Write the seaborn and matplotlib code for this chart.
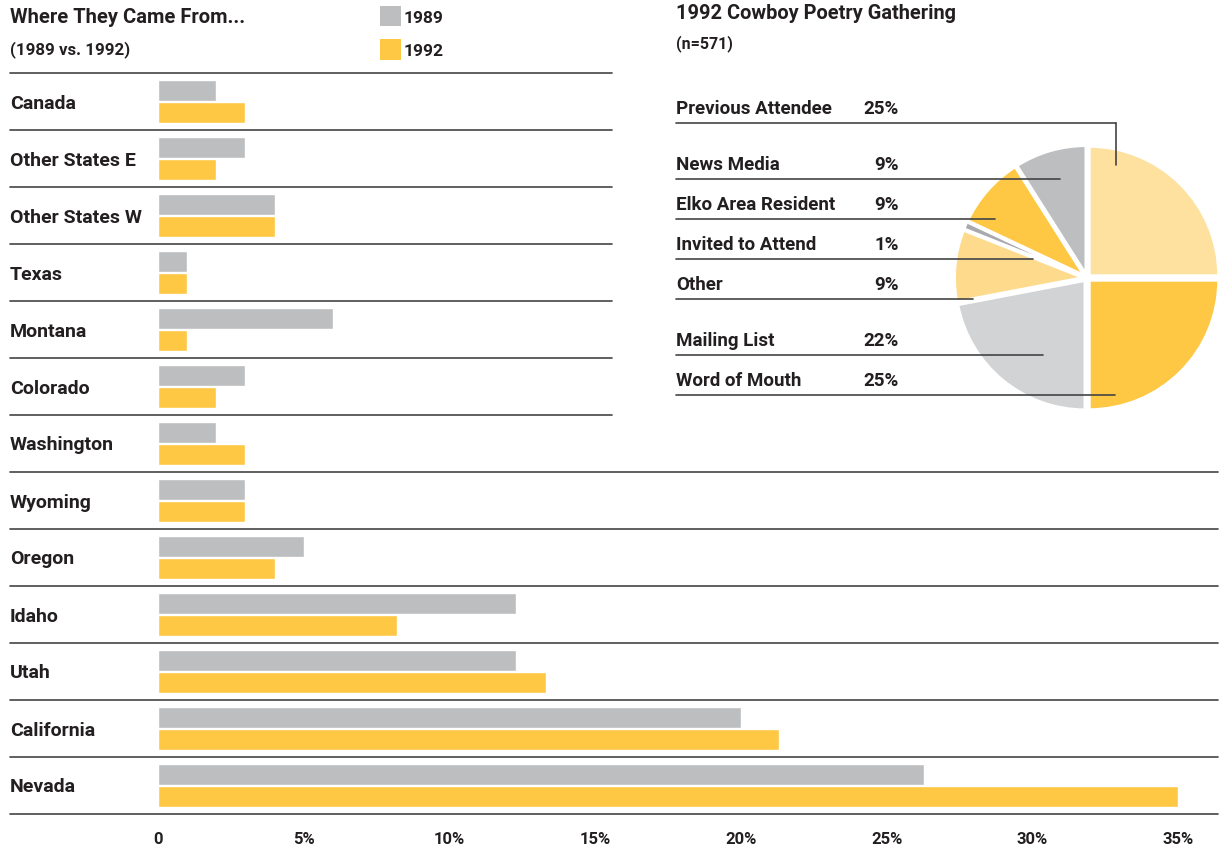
import seaborn as sns
import matplotlib.pyplot as plt
import pandas as pd

# --------------------
# Data
# --------------------
states = ["Canada", "Other States E", "Other States W", "Texas", "Montana",
          "Colorado", "Washington", "Wyoming", "Oregon", "Idaho", "Utah",
          "California", "Nevada"]
pct_1989 = [2, 3, 4, 1, 6, 3, 2, 3, 5, 12.3, 12.3, 20, 26.3]
pct_1992 = [3, 2, 4, 1, 1, 2, 3, 3, 4, 8.2, 13.3, 21.3, 35]

sources = ["Previous Attendee", "News Media", "Elko Area Resident",
           "Invited to Attend", "Other", "Mailing List", "Word of Mouth"]
source_pct = [25, 9, 9, 1, 9, 22, 25]
# pie goes clockwise from the top in this order
pie_order = ["Previous Attendee", "Word of Mouth", "Mailing List", "Other",
             "Invited to Attend", "Elko Area Resident", "News Media"]

tick_vals = [0, 5, 10, 15, 20, 25, 30, 35]
tick_labels = ["0", "5%", "10%", "15%", "20%", "25%", "30%", "35%"]

GRAY = "#BCBEC0"
YELLOW = "#FEC845"
INK = "#231F20"
slice_colors = {
    "Previous Attendee": "#FEE19F",
    "Word of Mouth": YELLOW,
    "Mailing List": "#D1D3D4",
    "Other": "#FDDA8C",
    "Invited to Attend": "#A7A9AC",
    "Elko Area Resident": YELLOW,
    "News Media": GRAY,
}

df = pd.DataFrame({
    "State": states * 2,
    "Pct": pct_1989 + pct_1992,
    "Year": ["1989"] * len(states) + ["1992"] * len(states),
})

sns.set_style("white")
plt.rcParams["font.family"] = ["Roboto", "DejaVu Sans"]
plt.rcParams["font.weight"] = "bold"

W, H = 1220, 853
fig = plt.figure(figsize=(W / 100, H / 100), dpi=100)

def fig_box(x0, y0, x1, y1):
    return [x0 / W, 1 - y1 / H, (x1 - x0) / W, (y1 - y0) / H]

# --------------------
# Bars
# --------------------
px_per_pct = (1178 - 158) / 35
ax = fig.add_axes(fig_box(158, 74, 1218, 815))
sns.barplot(data=df, y="State", x="Pct", hue="Year", orient="h",
            palette={"1989": GRAY, "1992": YELLOW}, width=0.8, gap=0.08,
            legend=False, ax=ax, saturation=1)
ax.set_xlim(0, (1218 - 158) / px_per_pct)
ax.set_ylim(len(states) - 0.5, -0.5)
ax.set_xticks(tick_vals)
ax.set_xticklabels(tick_labels, fontsize=12, fontweight="bold", color=INK)
ax.tick_params(axis="x", length=0, pad=12)
ax.set_yticks([])
ax.set_xlabel("")
ax.set_ylabel("")
for s in ax.spines.values():
    s.set_visible(False)
ax.patch.set_alpha(0)

# --------------------
# Pie
# --------------------
cx, cy, r = 1087, 279, 130
pax = fig.add_axes(fig_box(cx - 140, cy - 140, cx + 140, cy + 140))
pie_vals = [source_pct[sources.index(s)] for s in pie_order]
pax.pie(pie_vals, colors=[slice_colors[s] for s in pie_order],
        startangle=90, counterclock=False, radius=r / 140,
        explode=[0.02] * len(pie_vals),
        wedgeprops=dict(edgecolor="white", linewidth=2.5))
pax.set_xlim(-1, 1)
pax.set_ylim(-1, 1)
pax.set_aspect("equal")
pax.axis("off")

# --------------------
# Overlay: text and rules
# --------------------
ov = fig.add_axes([0, 0, 1, 1], zorder=5)
ov.set_xlim(0, W)
ov.set_ylim(H, 0)
ov.axis("off")
ov.patch.set_alpha(0)

line_kw = dict(color="#444444", linewidth=1.2)

# row separators
row_h = 57
for i in range(len(states) + 1):
    y = 74 + i * row_h
    x_end = 612 if i < 7 else 1218
    ov.plot([10, x_end], [y, y], **line_kw)
for i, name in enumerate(states):
    ov.text(10, 74 + row_h * (i + 0.5) + 1, name, fontsize=14, fontweight="bold",
            va="center", ha="left", color=INK)

ov.text(10, 17, "Where They Came From...", fontsize=14.5, fontweight="bold",
        va="center", color=INK)
ov.text(10, 50, "(1989 vs. 1992)", fontsize=12.2, fontweight="bold",
        va="center", color=INK)
ov.add_patch(plt.Rectangle((380, 7), 21, 20, color=GRAY, lw=0))
ov.add_patch(plt.Rectangle((380, 40), 21, 21, color=YELLOW, lw=0))
ov.text(404, 18, "1989", fontsize=12.5, fontweight="bold", va="center", color=INK)
ov.text(404, 51, "1992", fontsize=12.5, fontweight="bold", va="center", color=INK)

ov.text(676, 13, "1992 Cowboy Poetry Gathering", fontsize=14.4, fontweight="bold",
        va="center", color=INK)
ov.text(676, 44, "(n=571)", fontsize=11.5, fontweight="bold",
        va="center", color=INK)

label_y = [109, 165, 205, 245, 285, 341, 381]
leader_end = [1116, 1060, 995, 1033, 973, 1043, 1115]
for name, pct, y, xe in zip(sources, source_pct, label_y, leader_end):
    ov.text(676, y, name, fontsize=13.5, fontweight="bold", va="center",
            color=INK)
    ov.text(899, y, f"{pct}%", fontsize=13.5, fontweight="bold", va="center",
            ha="right", color=INK)
    ov.plot([676, xe], [y + 15, y + 15], **line_kw)
ov.plot([1116, 1116], [124, 166], **line_kw)

fig.savefig("out.png", dpi=100)
